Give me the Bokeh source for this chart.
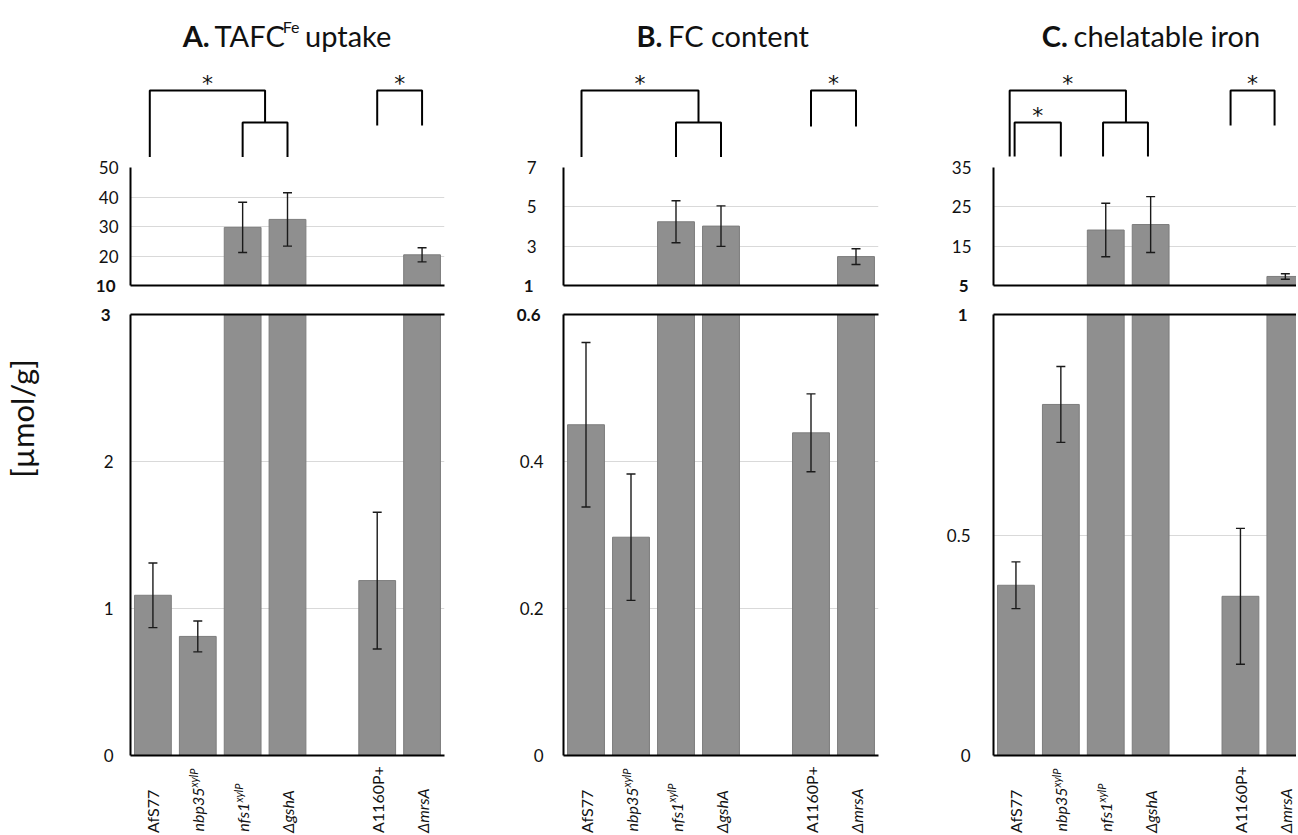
import math
from bokeh.plotting import figure
from bokeh.layouts import row, column
from bokeh.models import Range1d, FixedTicker, LinearAxis, ColumnDataSource
from bokeh.core.properties import value
from bokeh.embed import file_html
from bokeh.resources import INLINE

FONT = "Lato"
TXT = "#111111"
BAR_FILL = "#8f8f8f"
BAR_LINE = "#7d7d7d"
GRID = "#d9d9d9"

# ---------------- data ----------------
strains = ["AfS77", "nbp35", "nfs1", "ΔgshA", "A1160P+", "ΔmrsA"]
strain_sup = ["", "xylP", "xylP", "", "", ""]
strain_italic = [False, True, True, True, False, True]

tafc_mean = [1.09, 0.81, 29.7, 32.4, 1.19, 20.4]
tafc_err = [0.22, 0.105, 8.5, 9.05, 0.465, 2.4]
fc_mean = [0.450, 0.297, 4.24, 4.02, 0.439, 2.47]
fc_err = [0.112, 0.086, 1.07, 1.03, 0.053, 0.40]
chel_mean = [0.386, 0.796, 19.1, 20.5, 0.361, 7.3]
chel_err = [0.053, 0.086, 6.8, 7.1, 0.154, 0.7]

tafc_top_ticks = [10, 20, 30, 40, 50]
tafc_top_labels = ["10", "20", "30", "40", "50"]
tafc_bot_ticks = [0, 1, 2, 3]
tafc_bot_labels = ["0", "1", "2", "3"]
fc_top_ticks = [1, 3, 5, 7]
fc_top_labels = ["1", "3", "5", "7"]
fc_bot_ticks = [0, 0.2, 0.4, 0.6]
fc_bot_labels = ["0", "0.2", "0.4", "0.6"]
chel_top_ticks = [5, 15, 25, 35]
chel_top_labels = ["5", "15", "25", "35"]
chel_bot_ticks = [0, 0.5, 1]
chel_bot_labels = ["0", "0.5", "1"]

y_label = "[µmol/g]"

# significance brackets: (left slot, right slot, top y, left leg end y, right leg end y, star)
tafc_brackets = [(-0.07, 2.5, 90, 157, 122, True), (2, 3, 122, 157, 157, False), (5, 6, 90, 125, 125, True)]
fc_brackets = [(-0.1, 2.5, 90, 157, 122, True), (2, 3, 122, 157, 157, False), (5, 6, 90, 126, 126, True)]
chel_brackets = [(-0.14, 2.45, 90, 156, 122, True), (-0.03, 1, 122, 156, 156, True),
                 (1.94, 2.94, 122, 156, 156, False), (4.78, 5.76, 90, 125, 125, True)]

# x slots: a gap after the fourth strain
slots = [i if i < 4 else i + 1 for i in range(len(strains))]

CHAR_W = {' ': 0.193, '.': 0.23, '*': 0.40, '+': 0.58, '/': 0.37, '[': 0.31, ']': 0.31, 'µ': 0.56,
          'A': 0.64, 'B': 0.63, 'C': 0.64, 'F': 0.52, 'P': 0.60, 'S': 0.50, 'T': 0.55, 'Δ': 0.68,
          'a': 0.50, 'b': 0.56, 'c': 0.47, 'e': 0.53, 'f': 0.33, 'g': 0.50, 'h': 0.56, 'i': 0.24,
          'k': 0.51, 'l': 0.24, 'm': 0.84, 'n': 0.56, 'o': 0.57, 'p': 0.56, 'r': 0.37, 's': 0.43,
          't': 0.35, 'u': 0.56, 'x': 0.49, 'y': 0.51}
for d in "0123456789":
    CHAR_W[d] = 0.58


def tw(s, size, bold=False):
    w = sum(CHAR_W.get(c, 0.55) for c in s) * size
    return w * 1.04 if bold else w


panels = [
    dict(title=[("A.", "bold"), (" TAFC", "normal"), ("Fe", "sup"), (" uptake", "normal")],
         mean=tafc_mean, err=tafc_err, top_ticks=tafc_top_ticks, top_labels=tafc_top_labels,
         bot_ticks=tafc_bot_ticks, bot_labels=tafc_bot_labels, brackets=tafc_brackets,
         col_w=440, lb=70, rb=56, top_so=12, bot_so=17),
    dict(title=[("B.", "bold"), (" FC content", "normal")],
         mean=fc_mean, err=fc_err, top_ticks=fc_top_ticks, top_labels=fc_top_labels,
         bot_ticks=fc_bot_ticks, bot_labels=fc_bot_labels, brackets=fc_brackets,
         col_w=435, lb=63, rb=57, top_so=27, bot_so=20),
    dict(title=[("C.", "bold"), (" chelatable iron", "normal")],
         mean=chel_mean, err=chel_err, top_ticks=chel_top_ticks, top_labels=chel_top_labels,
         bot_ticks=chel_bot_ticks, bot_labels=chel_bot_labels, brackets=chel_brackets,
         col_w=361, lb=58, rb=0, top_so=22, bot_so=23),
]

SLOT_PX = 44.9
H_BR, H_TOP, H_BOT, H_LAB = 157, 143, 466, 68
TITLE_SIZE, SUP_SIZE, TICK_SIZE, CAT_SIZE, CAT_SUP = 29, 16, 17, 16, 11


def make_fig(w, h, lb, rb, tb, bb, xr, yr, axes=False):
    p = figure(width=w, height=h, x_range=xr, y_range=yr, min_border=0,
               min_border_left=lb, min_border_right=rb, min_border_top=tb, min_border_bottom=bb,
               toolbar_location=None, output_backend="svg",
               x_axis_location="below" if axes else None,
               y_axis_location="left" if axes else None)
    p.outline_line_color = None
    p.background_fill_color = "white"
    p.border_fill_color = "white"
    if not axes:
        p.grid.visible = False
    return p


def plain_axis(ax):
    ax.major_tick_out = 0
    ax.major_tick_in = 0
    ax.minor_tick_out = 0
    ax.minor_tick_in = 0
    ax.major_tick_line_color = None
    ax.minor_tick_line_color = None


def style_x(ax):
    ax.ticker = FixedTicker(ticks=[])
    ax.major_label_text_font_size = "0px"
    ax.major_label_standoff = 0
    plain_axis(ax)
    ax.axis_line_width = 2
    ax.axis_line_color = "black"


def style_y(p, ticks, labels, bold_tick, standoff):
    ax = p.yaxis[0]
    ax.ticker = FixedTicker(ticks=ticks)
    ax.major_label_overrides = {t: ("" if t == bold_tick else lab) for t, lab in zip(ticks, labels)}
    plain_axis(ax)
    ax.major_label_standoff = standoff
    ax.axis_line_width = 2
    ax.axis_line_color = "black"
    ax.major_label_text_font = FONT
    ax.major_label_text_font_size = f"{TICK_SIZE}px"
    ax.major_label_text_color = TXT
    p.ygrid[0].ticker = FixedTicker(ticks=ticks)
    p.ygrid.grid_line_color = GRID
    p.xgrid.visible = False
    # the break-edge label is bold: an outer axis carrying only that tick
    inner_w = max(tw(lab, TICK_SIZE) for t, lab in zip(ticks, labels) if t != bold_tick)
    bold_lab = labels[ticks.index(bold_tick)]
    outer = LinearAxis(ticker=FixedTicker(ticks=[bold_tick]),
                       major_label_overrides={bold_tick: bold_lab},
                       major_label_standoff=-int(round(inner_w)),
                       major_label_text_font=FONT, major_label_text_font_size=f"{TICK_SIZE}px",
                       major_label_text_font_style="bold", major_label_text_color=TXT,
                       axis_line_color=None)
    plain_axis(outer)
    p.add_layout(outer, "left")


def draw_bars(p, mean, err):
    lo = [m - e for m, e in zip(mean, err)]
    hi = [m + e for m, e in zip(mean, err)]
    src = ColumnDataSource(dict(x=slots, top=mean, lo=lo, hi=hi,
                                cl=[s - 0.1 for s in slots], cr=[s + 0.1 for s in slots]))
    p.vbar(x="x", top="top", bottom=0, width=0.82, source=src, fill_color=BAR_FILL,
           line_color=BAR_LINE, line_width=1)
    p.segment(x0="x", y0="lo", x1="x", y1="hi", source=src, line_color="#1a1a1a", line_width=1.4)
    p.segment(x0="cl", y0="hi", x1="cr", y1="hi", source=src, line_color="#1a1a1a", line_width=1.4)
    p.segment(x0="cl", y0="lo", x1="cr", y1="lo", source=src, line_color="#1a1a1a", line_width=1.4)


cols = []
for spec in panels:
    fw = spec["col_w"] - spec["lb"] - spec["rb"]
    x_end = -0.5 + fw / SLOT_PX if spec["rb"] == 0 else 6.5
    xr = Range1d(-0.5, x_end)
    ppc = fw / (x_end + 0.5)

    # ---- brackets + title ----
    bf = make_fig(spec["col_w"], H_BR, spec["lb"], spec["rb"], 0, 0, xr, Range1d(0, H_BR))
    by = lambda py: H_BR - py
    for (l, r, top, le, re_, star) in spec["brackets"]:
        bf.line(x=[l, l, r, r], y=[by(le), by(top), by(top), by(re_)], line_color="black", line_width=2)
        if star:
            bf.text(x=[(l + r) / 2], y=[by(top - 7)], text=["*"], text_align="center",
                    text_baseline="middle", text_font=value("DejaVu Sans"), text_font_size=value("22px"),
                    text_color=TXT)
    parts = spec["title"]
    widths = [tw(t, SUP_SIZE if k == "sup" else TITLE_SIZE, k == "bold") for t, k in parts]
    cur = 3.0 * ppc - sum(widths) / 2
    for (t, k), w in zip(parts, widths):
        size = SUP_SIZE if k == "sup" else TITLE_SIZE
        lead = tw(t[:len(t) - len(t.lstrip())], size)
        bf.text(x=[(cur + lead) / ppc], y=[by(26) if k == "sup" else by(35)], text=[t.strip()],
                text_align="left", text_baseline="alphabetic", text_font=value(FONT),
                text_font_size=value(f"{size}px"),
                text_font_style=value("bold" if k == "bold" else "normal"), text_color=TXT)
        cur += w

    # ---- upper (broken) part ----
    tt = spec["top_ticks"]
    tf = make_fig(spec["col_w"], H_TOP, spec["lb"], spec["rb"], 10, 15, xr, Range1d(tt[0], tt[-1]), axes=True)
    style_x(tf.xaxis[0])
    style_y(tf, tt, spec["top_labels"], tt[0], spec["top_so"])
    draw_bars(tf, spec["mean"], spec["err"])

    # ---- lower part ----
    bt = spec["bot_ticks"]
    lf = make_fig(spec["col_w"], H_BOT, spec["lb"], spec["rb"], 14, 11, xr, Range1d(bt[0], bt[-1]), axes=True)
    style_x(lf.xaxis[0])
    above = LinearAxis()
    style_x(above)
    lf.add_layout(above, "above")
    style_y(lf, bt, spec["bot_labels"], bt[-1], spec["bot_so"])
    draw_bars(lf, spec["mean"], spec["err"])

    # ---- category labels ----
    cf = make_fig(spec["col_w"], H_LAB, spec["lb"], spec["rb"], 0, 0, xr, Range1d(0, H_LAB))
    for i, s in enumerate(strains):
        x = slots[i]
        st = "italic" if strain_italic[i] else "normal"
        if strain_sup[i]:
            yj = 1.5 + tw(s, CAT_SIZE)
            cf.text(x=[x], y=[yj], text=[s], angle=math.pi / 2, text_align="right", text_baseline="middle",
                    text_font=value(FONT), text_font_size=value(f"{CAT_SIZE}px"),
                    text_font_style=value(st), text_color=TXT)
            cf.text(x=[x - 0.09], y=[yj], text=[strain_sup[i]], angle=math.pi / 2, text_align="left",
                    text_baseline="middle", text_font=value(FONT), text_font_size=value(f"{CAT_SUP}px"),
                    text_font_style=value(st), text_color=TXT)
        else:
            cf.text(x=[x], y=[1.5], text=[s], angle=math.pi / 2, text_align="left", text_baseline="middle",
                    text_font=value(FONT), text_font_size=value(f"{CAT_SIZE}px"),
                    text_font_style=value(st), text_color=TXT)

    cols.append(column(bf, tf, lf, cf))

# ---- shared y label ----
H_ALL = H_BR + H_TOP + H_BOT + H_LAB
yl = make_fig(60, H_ALL, 0, 0, 0, 0, Range1d(0, 60), Range1d(0, H_ALL))
yl.text(x=[21], y=[H_ALL - 418], text=[y_label], angle=math.pi / 2, text_align="center",
        text_baseline="middle", text_font=value(FONT), text_font_size=value("31px"), text_color=TXT)

layout = row(yl, *cols)
open("out.html", "w").write(file_html(layout, INLINE))
